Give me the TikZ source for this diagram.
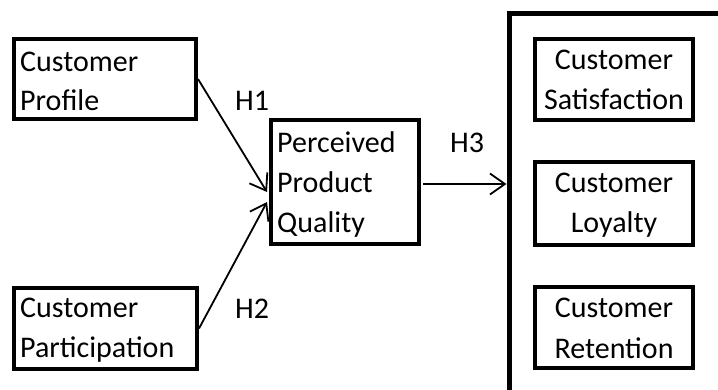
\documentclass[tikz,border=0pt]{standalone}
\usepackage{fontspec}
\setmainfont{Carlito}
\usetikzlibrary{arrows.meta,calc}
\tikzset{
  boxnode/.style={draw, line width=4pt, rectangle, inner sep=0pt},
  txt/.style={inner sep=0pt, font=\fontsize{30pt}{39pt}\selectfont},
  lt/.style={txt, anchor=base west},
  ct/.style={txt, anchor=base},
  conn/.style={line width=1.8pt, -{Straight Barb[length=15pt,width=21pt]}}
}
\begin{document}
\begin{tikzpicture}[x=1pt,y=-1pt]
\useasboundingbox (0,0) rectangle (718,390);
% boxes
\node[boxnode, minimum width=182pt, minimum height=80pt] (p1) at (105,79) {};
\node[boxnode, minimum width=183pt, minimum height=81pt] (p2) at (105.5,328.5) {};
\node[boxnode, minimum width=148pt, minimum height=124pt] (ppq) at (345,182) {};
\node[boxnode, minimum width=158pt, minimum height=81pt] (sat) at (614,79.5) {};
\node[boxnode, minimum width=158pt, minimum height=83pt] (loy) at (614,203.5) {};
\node[boxnode, minimum width=158pt, minimum height=81pt] (ret) at (614,327.5) {};
% frame
\coordinate (frtop) at (718,13.5);
\coordinate (frcorner) at (509,13.5);
\coordinate (frbottom) at (509,390);
\coordinate (frin) at (506.5,184);
\draw[line width=5pt] (frtop) -- (frcorner) -- (frbottom);
% texts
\node[lt] (t1a) at (20,72) {Customer};
\node[lt] (t1b) at (20,111) {Profile};
\node[lt] (t2a) at (20,318) {Customer};
\node[lt] (t2b) at (20,357) {Participation};
\node[lt] (t3a) at (277,153) {Perceived};
\node[lt] (t3b) at (277,193) {Product};
\node[lt] (t3c) at (277,233) {Quality};
\node[ct] (t4a) at (614,70) {Customer};
\node[ct] (t4b) at (614,110) {Satisfaction};
\node[ct] (t5a) at (614,193) {Customer};
\node[ct] (t5b) at (614,233) {Loyalty};
\node[ct] (t6a) at (614,318) {Customer};
\node[ct] (t6b) at (614,358) {Retention};
\node[lt] (h1) at (235,111) {H1};
\node[lt] (h2) at (235,319) {H2};
\node[lt] (h3) at (450,153) {H3};
% connectors
\draw[conn] (p1.east) -- ($(ppq.west)+(-2,10)$);
\draw[conn] (p2.east) -- ($(ppq.west)+(-2,20)$);
\draw[conn] ($(ppq.east)+(2,2)$) -- (frin);
\end{tikzpicture}
\end{document}
